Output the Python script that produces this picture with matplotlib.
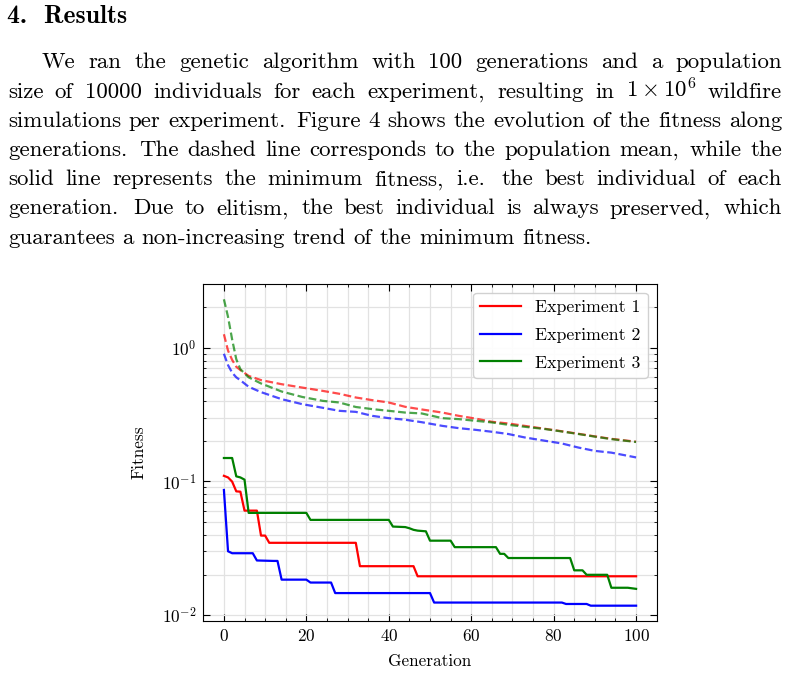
"""Page snippet: results paragraph plus fitness-vs-generation plot."""

import matplotlib

matplotlib.use("Agg")
import matplotlib.pyplot as plt
from matplotlib.ticker import MultipleLocator

plt.rcParams["font.family"] = "cmr10"
plt.rcParams["mathtext.fontset"] = "cm"
plt.rcParams["axes.formatter.use_mathtext"] = True
plt.rcParams["axes.unicode_minus"] = False

W, H = 788, 676

heading = "4.  Results"
paragraph = [
    "We ran the genetic algorithm with 100 generations and a population",
    r"size of 10000 individuals for each experiment, resulting in $1\times10^6$ wildfire",
    "simulations per experiment. Figure 4 shows the evolution of the fitness along",
    "generations. The dashed line corresponds to the population mean, while the",
    "solid line represents the minimum fitness, i.e. the best individual of each",
    "generation. Due to elitism, the best individual is always preserved, which",
    "guarantees a non-increasing trend of the minimum fitness.",
]

labels = ["Experiment 1", "Experiment 2", "Experiment 3"]
colors = ["red", "blue", "green"]

# minimum fitness (points where the curve changes)
min_gen_1 = [0, 1, 2, 3, 4, 5, 8, 9, 10, 11, 32, 33, 46, 47, 100]
min_fit_1 = [0.110, 0.107, 0.0995, 0.0842, 0.0837, 0.0604, 0.0604, 0.0393, 0.0393,
             0.0347, 0.0347, 0.0232, 0.0232, 0.0195, 0.0195]
min_gen_2 = [0, 1, 2, 7, 8, 12, 13, 14, 20, 21, 26, 27, 50, 51, 82, 83, 88, 89, 100]
min_fit_2 = [0.0862, 0.0300, 0.0290, 0.0290, 0.0256, 0.0254, 0.0254, 0.0184, 0.0184,
             0.0175, 0.0175, 0.0146, 0.0146, 0.0124, 0.0124, 0.0121, 0.0121, 0.01175, 0.01175]
min_gen_3 = [0, 2, 3, 4, 5, 6, 20, 21, 40, 41, 44, 45, 46, 47, 49, 50, 55, 56, 66, 67,
             68, 69, 84, 85, 87, 88, 93, 94, 98, 100]
min_fit_3 = [0.1495, 0.1495, 0.109, 0.107, 0.103, 0.0581, 0.0581, 0.0515, 0.0515, 0.0459,
             0.0455, 0.0446, 0.0434, 0.0428, 0.0423, 0.0360, 0.0360, 0.0322, 0.0322, 0.0287,
             0.0287, 0.0267, 0.0267, 0.0216, 0.0216, 0.0200, 0.0200, 0.0160, 0.0160, 0.0157]

# population mean fitness
mean_gen = [0, 1, 2, 3, 4, 6, 9, 14, 19, 24, 28, 32, 36, 40, 44, 48, 53, 57, 61, 65,
            69, 73, 78, 82, 86, 90, 94, 100]
mean_fit_1 = [1.26, 0.95, 0.81, 0.72, 0.68, 0.615, 0.572, 0.533, 0.503, 0.475, 0.452,
              0.424, 0.405, 0.389, 0.361, 0.345, 0.327, 0.309, 0.295, 0.279, 0.271,
              0.260, 0.247, 0.237, 0.227, 0.217, 0.208, 0.198]
mean_fit_2 = [0.90, 0.74, 0.65, 0.60, 0.57, 0.51, 0.465, 0.412, 0.378, 0.355, 0.337,
              0.331, 0.309, 0.297, 0.289, 0.277, 0.260, 0.250, 0.243, 0.235, 0.226,
              0.213, 0.201, 0.192, 0.179, 0.169, 0.164, 0.151]
mean_fit_3 = [2.30, 1.70, 1.15, 0.82, 0.69, 0.60, 0.54, 0.47, 0.428, 0.400, 0.389,
              0.360, 0.347, 0.337, 0.327, 0.322, 0.297, 0.292, 0.284, 0.276, 0.265,
              0.256, 0.246, 0.236, 0.226, 0.216, 0.207, 0.197]


def fx(px):
    return px / W


def fy(py):
    return 1 - py / H


def draw_paragraph(fig, lines, left, right, first_indent, base0, step, size):
    renderer = fig.canvas.get_renderer()
    space = 0.333 * size * 100 / 72
    for i, line in enumerate(lines):
        words = line.split(" ")
        texts = [fig.text(0, fy(base0 + i * step), w, fontsize=size, va="baseline")
                 for w in words]
        widths = [t.get_window_extent(renderer).width for t in texts]
        weights = [1.4 if w.endswith(".") else 1.15 if w.endswith(",") else 1.0
                   for w in words[:-1]]
        x0 = left + (first_indent if i == 0 else 0)
        if i < len(lines) - 1:
            unit = (right - x0 - sum(widths)) / sum(weights)
        else:
            unit = space
        x = x0
        for j, t in enumerate(texts):
            t.set_x(fx(x))
            x += widths[j] + (unit * weights[j] if j < len(weights) else 0)


fig = plt.figure(figsize=(W / 100, H / 100), dpi=100)
fig.text(fx(7), fy(23), heading, fontsize=18.5, family="cmb10", va="baseline")
draw_paragraph(fig, paragraph, 8, 782, 34, 68.5, 29.2, 16.5)

ax = fig.add_axes([fx(203.3), fy(621), fx(656.7) - fx(203.3), fy(284) - fy(621)])
ax.set_yscale("log")

mins = [(min_gen_1, min_fit_1), (min_gen_2, min_fit_2), (min_gen_3, min_fit_3)]
means = [mean_fit_1, mean_fit_2, mean_fit_3]
for (g, f), m, c, lab in zip(mins, means, colors, labels):
    ax.plot(g, f, color=c, lw=1.6, label=lab)
    ax.plot(mean_gen, m, color=c, lw=1.6, alpha=0.7, linestyle=(0, (3.5, 1.6)))

ax.xaxis.set_major_locator(MultipleLocator(20))
ax.xaxis.set_minor_locator(MultipleLocator(5))
ax.tick_params(which="both", direction="in", top=True, right=True, labelsize=12.4)
ax.tick_params(which="major", length=5, width=0.8, pad=5)
ax.tick_params(which="minor", length=2.5, width=0.6)
ax.grid(which="both", color="#e2e2e2", linewidth=0.9)
ax.set_axisbelow(True)

ax.set_xlabel("Generation", fontsize=12.4)
ax.set_ylabel("Fitness", fontsize=12.4)
ax.xaxis.set_label_coords(0.5, -0.097)
ax.yaxis.set_label_coords(-0.125, 0.5)

ax.legend(loc="upper right", fontsize=12.8, handlelength=2.3, labelspacing=0.68,
          framealpha=0.9, edgecolor="#cccccc", fancybox=True, borderaxespad=0.5)

fig.savefig("out.png", dpi=100)
